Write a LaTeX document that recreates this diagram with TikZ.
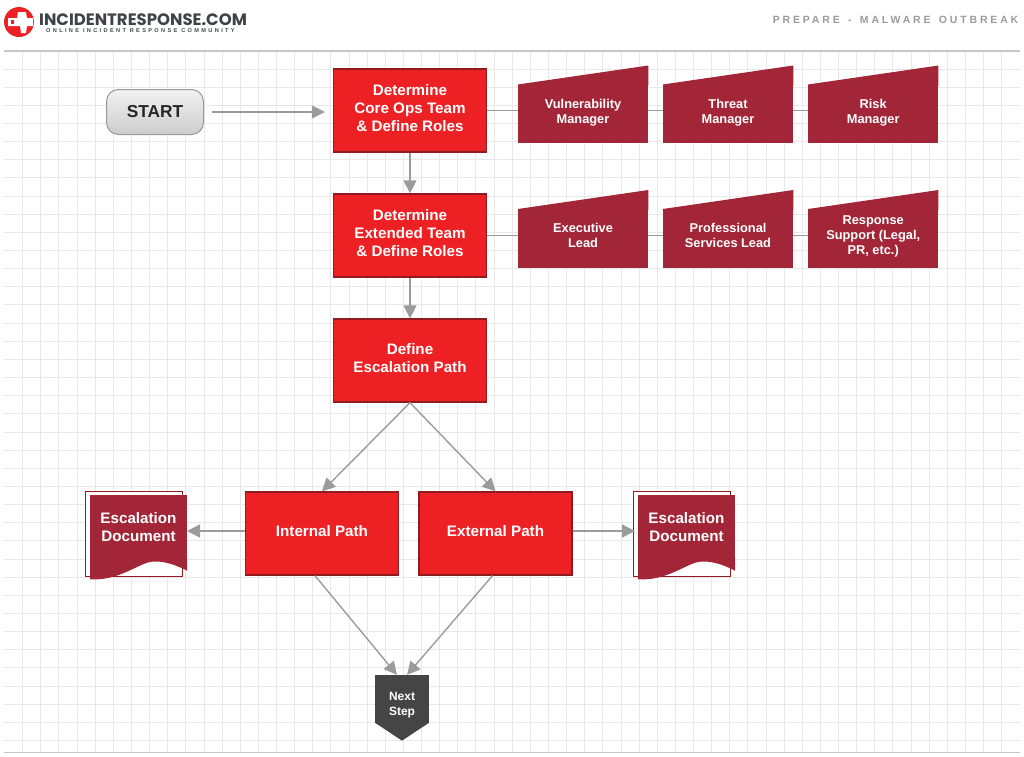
\documentclass[tikz,border=0pt]{standalone}
\usepackage{fontspec}
\usepackage{tikz}
\usetikzlibrary{arrows.meta}
\setmainfont{Liberation Sans}
\newfontfamily\logofont{Poppins}
\newfontfamily\tagfont[LetterSpace=42]{Liberation Sans}
\newfontfamily\headfont[LetterSpace=27,WordSpace=1.45]{Liberation Sans}
\definecolor{stepred}{HTML}{ED2024}
\definecolor{stepedge}{HTML}{8E1B20}
\definecolor{rolered}{HTML}{A32638}
\definecolor{linegray}{HTML}{9B9B9B}
\definecolor{gridgray}{HTML}{E8E8E8}
\definecolor{nextgray}{HTML}{454545}
\definecolor{logodark}{HTML}{3F4347}
\begin{document}
\begin{tikzpicture}[
            x = 1pt, y = -1pt,
            stepbox/.style = {draw = stepedge, line width = 1.3pt, fill = stepred, text = white,
                              minimum width = 153pt, minimum height = 83pt, inner sep = 0pt, align = center,
                              text depth = 5pt, font = \fontsize{15.2}{18}\selectfont\bfseries},
            rolebox/.style = {fill = rolered, text = white, minimum width = 130.5pt, minimum height = 58.5pt,
                              inner sep = 0pt, outer sep = 0pt, align = center, text depth = 5.5pt,
                              font = \fontsize{12.8}{15}\selectfont\bfseries,
                              append after command = {\pgfextra{\fill[rolered] ([yshift = -1pt]\tikzlastnode.north west) -- (\tikzlastnode.north west) -- ([yshift = 19pt]\tikzlastnode.north east) -- ([yshift = -1pt]\tikzlastnode.north east) -- cycle;}}},
            docbox/.style = {fill = rolered, text = white, minimum width = 97pt, minimum height = 64pt,
                             inner sep = 0pt, outer sep = 0pt, align = center, font = \fontsize{15.2}{18}\selectfont\bfseries,
                             append after command = {\pgfextra{\fill[rolered] ([yshift = .5pt]\tikzlastnode.south west) -- ([yshift = .5pt]\tikzlastnode.south east) -- ++(0,12.2)
                                 .. controls +(-13,-7) and +(10,-2) .. ++(-37,-8.7)
                                 .. controls +(-13,2.6) and +(28,1.7) .. ++(-60,17.3) -- cycle;}}},
            nextbox/.style = {fill = nextgray, text = white, minimum width = 54.3pt, minimum height = 48.3pt,
                              inner sep = 0pt, outer sep = 0pt, align = center, text height = 35pt,
                              font = \fontsize{12}{15}\selectfont\bfseries,
                              append after command = {\pgfextra{\fill[nextgray] ([yshift = .5pt]\tikzlastnode.south west) -- ([yshift = .5pt]\tikzlastnode.south east) -- ++(-27.15,18) -- cycle;}}},
            flow/.style = {draw = linegray, line width = 1.4pt, -{Triangle[length = 13pt, width = 13pt]}},
            link/.style = {draw = linegray, line width = 1.2pt},
            gridline/.style = {draw = gridgray, line width = 1pt},
            rule/.style = {draw = black!22, line width = 1.2pt}
            ]
            \useasboundingbox (0,0) rectangle (1024,756);
            % grid
            \foreach \k in {0,...,54} \draw[gridline] (22.7+18.13*\k,51) -- (22.7+18.13*\k,752);
            \foreach \k in {0,...,37} \draw[gridline] (4,69+18.15*\k) -- (1020,69+18.15*\k);
            \draw[rule] (4,51) -- (1020,51);
            \draw[rule] (4,752.5) -- (1020,752.5);
            % header
            \fill[stepred] (19,22) circle (15);
            \fill[white] (8,18) -- (17,18) -- (18,12) -- (26,12) -- (27,18) -- (33,18) -- (33,26) -- (27,26) -- (26,33) -- (21,33) -- (20,26) -- (8,26) -- cycle;
            \fill[stepred] (11,20) rectangle (14,24);
            \node[inner sep = 0pt, anchor = west, text = logodark, font = \logofont\fontsize{16.5}{18}\selectfont\bfseries] (logo) at (39,20) {INCIDENTRESPONSE.COM};
            \node[inner sep = 0pt, anchor = west, text = logodark, font = \tagfont\fontsize{5.6}{7}\selectfont\bfseries] (tagline) at (46,30.8) {ONLINE INCIDENT RESPONSE COMMUNITY};
            \node[inner sep = 0pt, anchor = east, text = linegray, font = \headfont\fontsize{10.5}{12}\selectfont\bfseries] (title) at (1018.5,20) {PREPARE - MALWARE OUTBREAK};
            % steps
            \node[draw = black!40, line width = 1pt, rounded corners = 12pt, top color = white!95!black, bottom color = black!20,
                  minimum width = 97pt, minimum height = 45pt, text = black!85, font = \fontsize{17.3}{20}\selectfont\bfseries] (start) at (155,112) {START};
            \node[stepbox] (core) at (410,110.5) {Determine\\Core Ops Team\\\& Define Roles};
            \node[stepbox] (extended) at (410,235.5) {Determine\\Extended Team\\\& Define Roles};
            \node[stepbox] (define) at (410,360.5) {Define\\Escalation Path};
            \node[stepbox] (internal) at (322,533.5) {Internal Path};
            \node[stepbox] (external) at (495.5,533.5) {External Path};
            % roles
            \node[rolebox] (vuln) at (583,113.75) {Vulnerability\\Manager};
            \node[rolebox] (threat) at (728,113.75) {Threat\\Manager};
            \node[rolebox] (risk) at (873.2,113.75) {Risk\\Manager};
            \node[rolebox] (exec) at (583,238.25) {Executive\\Lead};
            \node[rolebox] (services) at (728,238.25) {Professional\\Services Lead};
            \node[rolebox] (support) at (873.2,238.25) {Response\\Support (Legal,\\PR, etc.)};
            % documents
            \draw[draw = stepedge, fill = white, line width = .8pt] (85,491.5) rectangle (182,576);
            \draw[draw = stepedge, fill = white, line width = .8pt] (633,491.5) rectangle (730,576);
            \node[docbox] (docleft) at (138.5,527) {Escalation\\Document};
            \node[docbox] (docright) at (686.5,527) {Escalation\\Document};
            \node[nextbox] (next) at (402,699) {Next\\Step};
            % connectors
            \draw[flow, shorten < = 8pt, shorten > = 8pt] (start.east) -- (core.west |- start.east);
            \draw[flow] (core) -- (extended);
            \draw[flow] (extended) -- (define);
            \draw[flow] (define.south) -- (internal.north);
            \draw[flow] (define.south) -- (external.north);
            \draw[flow] ([yshift = 2.5pt]internal.west) -- ([yshift = -4pt]docleft.east);
            \draw[flow, shorten > = 3pt] ([yshift = 2.5pt]external.east) -- ([yshift = -4pt]docright.west);
            \draw[flow] ([xshift = -7pt]internal.south) -- ([xshift = -5pt]next.north);
            \draw[flow] ([xshift = -3pt]external.south) -- ([xshift = 5pt]next.north);
            \draw[link] (core.east) -- (vuln.west |- core.east);
            \draw[link] (vuln.east |- core.east) -- (threat.west |- core.east);
            \draw[link] (threat.east |- core.east) -- (risk.west |- core.east);
            \draw[link] (extended.east) -- (exec.west |- extended.east);
            \draw[link] (exec.east |- extended.east) -- (services.west |- extended.east);
            \draw[link] (services.east |- extended.east) -- (support.west |- extended.east);
          \end{tikzpicture}
\end{document}
